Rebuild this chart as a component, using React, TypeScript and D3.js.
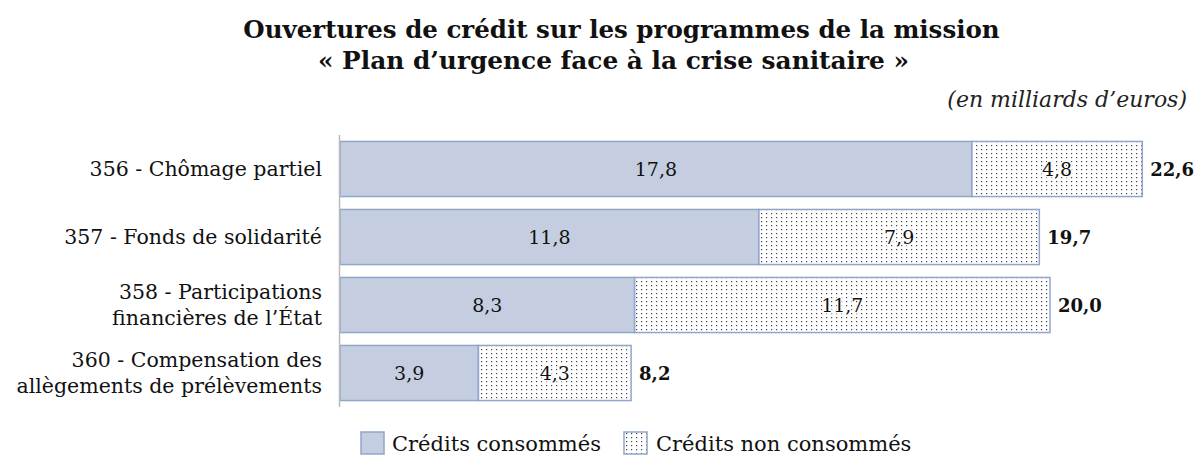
import React from "react";
import * as d3 from "d3";

const categories: string[][] = [
  ["356 - Chômage partiel"],
  ["357 - Fonds de solidarité"],
  ["358 - Participations", "financières de l’État"],
  ["360 - Compensation des", "allègements de prélèvements"],
];
const consumed = [17.8, 11.8, 8.3, 3.9];
const notConsumed = [4.8, 7.9, 11.7, 4.3];
const totals = [22.6, 19.7, 20.0, 8.2];
const seriesNames = ["Crédits consommés", "Crédits non consommés"];

const W = 1200;
const H = 468;
const FONT = "'Palatino Linotype', 'Book Antiqua', Palatino, 'DejaVu Serif', serif";
const FILL = "#C4CEE0";
const STROKE = "#8FA6CA";

const fmt = (v: number) => v.toFixed(1).replace(".", ",");

export default function App() {
  const x = d3.scaleLinear().domain([0, 1]).range([340, 375.5]);
  const y = d3
    .scaleBand<number>()
    .domain(d3.range(categories.length))
    .range([135, 407])
    .paddingInner(0.19)
    .paddingOuter(0.095);
  const bh = y.bandwidth();

  return (
    <svg width={W} height={H} style={{ position: "absolute", left: 0, top: 0, fontFamily: FONT }}>
      <defs>
        <pattern id="dots" width={5} height={4} patternUnits="userSpaceOnUse">
          <rect width={5} height={4} fill="#fff" />
          <rect x={1} y={1} width={1.2} height={1.2} fill="#444" />
        </pattern>
      </defs>
      <rect width={W} height={H} fill="#fff" />
      <text x={621.5} y={38} textAnchor="middle" fontWeight="bold" fontSize={24.5} fill="#111">
        Ouvertures de crédit sur les programmes de la mission
      </text>
      <text x={613.5} y={69} textAnchor="middle" fontWeight="bold" fontSize={24.8} fill="#111">
        « Plan d’urgence face à la crise sanitaire »
      </text>
      <text x={1187} y={107} textAnchor="end" fontStyle="italic" fontSize={22} fill="#222">
        (en milliards d’euros)
      </text>

      {categories.map((lines, i) => {
        const y0 = y(i)!;
        const cy = y0 + bh / 2;
        const x0 = x(0);
        const x1 = x(consumed[i]);
        const x2 = x(consumed[i] + notConsumed[i]);
        return (
          <g key={i}>
            <rect x={x0} y={y0} width={x1 - x0} height={bh} fill={FILL} stroke={STROKE} strokeWidth={1.5} />
            <rect x={x1} y={y0} width={x2 - x1} height={bh} fill="url(#dots)" stroke={STROKE} strokeWidth={1.5} />
            <text x={(x0 + x1) / 2} y={cy + 7} textAnchor="middle" fontSize={19} fill="#111">
              {fmt(consumed[i])}
            </text>
            <text x={(x1 + x2) / 2} y={cy + 7} textAnchor="middle" fontSize={19} fill="#111" stroke="#fff" strokeWidth={3} paintOrder="stroke">
              {fmt(notConsumed[i])}
            </text>
            <text x={x2 + 8} y={cy + 7} fontSize={18} fontWeight="bold" fill="#111">
              {fmt(totals[i])}
            </text>
            {lines.map((l, j) => (
              <text
                key={j}
                x={322}
                y={cy + 7 + (j - (lines.length - 1) / 2) * 26}
                textAnchor="end"
                fontSize={20.5}
                fill="#111"
              >
                {l}
              </text>
            ))}
          </g>
        );
      })}
      <line x1={339.5} x2={339.5} y1={135} y2={407} stroke="#bbb" strokeWidth={1.5} />

      <g>
        <rect x={361} y={432} width={23} height={22} fill={FILL} stroke={STROKE} strokeWidth={1.5} />
        <text x={392} y={451} fontSize={21} fill="#111">{seriesNames[0]}</text>
        <rect x={624} y={432} width={23} height={22} fill="url(#dots)" stroke={STROKE} strokeWidth={1.5} />
        <text x={656} y={451} fontSize={21} fill="#111">{seriesNames[1]}</text>
      </g>
    </svg>
  );
}
